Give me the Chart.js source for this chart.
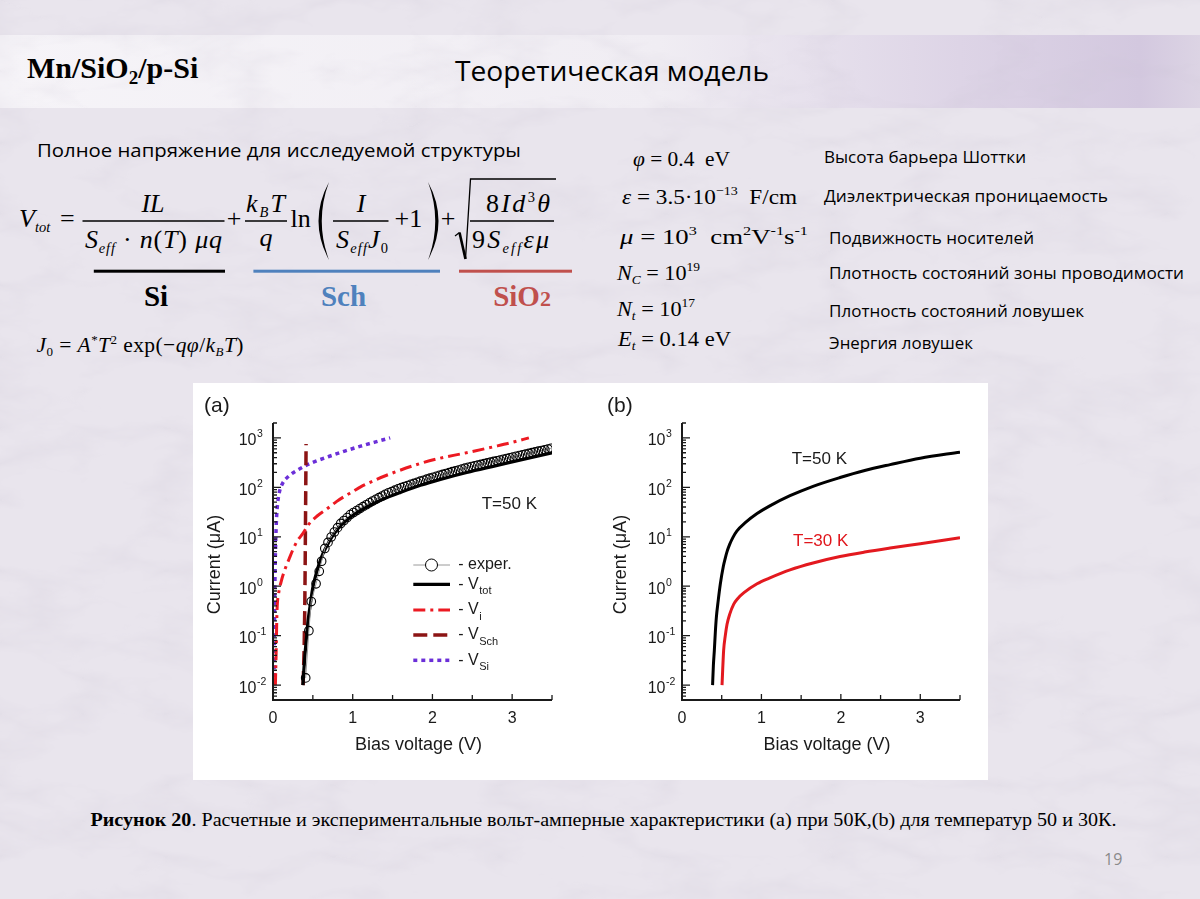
<!DOCTYPE html>
<html><head><meta charset="utf-8">
<script src="https://cdn.jsdelivr.net/npm/chart.js@4.4.1/dist/chart.umd.min.js"></script>
<style>
html,body{margin:0;padding:0;}
body{width:1200px;height:899px;position:relative;overflow:hidden;background:#e9e5ed;}
#panel{position:absolute;left:193px;top:383px;width:795px;height:397px;background:#fff;}
canvas{position:absolute;}
#ca{left:193px;top:383px;}
#cb{left:590px;top:383px;}
svg{position:absolute;left:0;top:0;}
</style></head><body>
<svg width="1200" height="899" xmlns="http://www.w3.org/2000/svg">
<defs>
<linearGradient id="hdr" x1="0" x2="1" y1="0" y2="0">
<stop offset="0" stop-color="#f6f4f8"/><stop offset="0.55" stop-color="#f0edf3"/>
<stop offset="0.8" stop-color="#ddd4e6"/><stop offset="0.95" stop-color="#d3c8df"/><stop offset="1" stop-color="#dcd4e4"/>
</linearGradient>
<filter id="marble" x="0" y="0" width="100%" height="100%">
<feTurbulence type="turbulence" baseFrequency="0.006 0.014" numOctaves="5" seed="7"/>
<feColorMatrix type="matrix" values="0 0 0 0 0.56  0 0 0 0 0.52  0 0 0 0 0.62  -0.5 0 0 0 0.16"/>
</filter>
</defs>
<rect x="0" y="35" width="1200" height="73" fill="url(#hdr)"/>
<rect x="0" y="0" width="1200" height="899" filter="url(#marble)"/>
<text x="27" y="78" font-family="Liberation Serif" font-weight="bold" font-size="30">Mn/SiO<tspan font-size="19" dy="6">2</tspan><tspan dy="-6">/p-Si</tspan></text>
<text x="455" y="81" font-family="Open Sans" font-size="28" textLength="314" lengthAdjust="spacingAndGlyphs">Теоретическая модель</text>
<text x="37" y="157" font-family="Open Sans" font-size="18.5" textLength="484" lengthAdjust="spacingAndGlyphs">Полное напряжение для исследуемой структуры</text>

<g font-family="Liberation Serif" font-size="26" fill="#000">
<text x="19" y="227" font-style="italic">V<tspan font-size="14.5" dy="5">tot</tspan></text>
<text x="60" y="227">=</text>
<text x="153" y="212" text-anchor="middle" font-style="italic">IL</text>
<line x1="82.5" y1="221" x2="224.5" y2="221" stroke="#000" stroke-width="1.3"/>
<text x="85" y="248" font-style="italic" textLength="137">S<tspan font-size="14.5" dy="5">eff</tspan><tspan dy="-5" font-style="normal"> · </tspan>n<tspan font-style="normal">(</tspan>T<tspan font-style="normal">)</tspan> μq</text>
<text x="234" y="227" text-anchor="middle">+</text>
<text x="246" y="212" font-style="italic" textLength="39">k<tspan font-size="14.5" dy="5">B</tspan><tspan dy="-5">T</tspan></text>
<line x1="245" y1="221" x2="287" y2="221" stroke="#000" stroke-width="1.3"/>
<text x="266" y="246" text-anchor="middle" font-style="italic">q</text>
<text x="290.5" y="227">ln</text>
<path d="M329,182 Q308,221 329,260 Q314.5,221 329,182Z" fill="#000"/>
<text x="361" y="212" text-anchor="middle" font-style="italic">I</text>
<line x1="333" y1="221" x2="388.5" y2="221" stroke="#000" stroke-width="1.3"/>
<text x="336" y="248" font-style="italic" textLength="52">S<tspan font-size="14.5" dy="5">eff</tspan><tspan dy="-5">J</tspan><tspan font-size="14.5" dy="5" font-style="normal">0</tspan></text>
<text x="394.5" y="227">+1</text>
<path d="M428,182 Q449,221 428,260 Q442.5,221 428,182Z" fill="#000"/>
<text x="448" y="227" text-anchor="middle">+</text>
<path d="M455,236 L459.5,232.5" stroke="#000" stroke-width="1.2" fill="none"/>
<path d="M459.5,232.5 L465.5,259" stroke="#000" stroke-width="2.6" fill="none"/>
<path d="M465.5,259 L470.5,179 L556,179" stroke="#000" stroke-width="1.3" fill="none"/>
<text x="486" y="212" textLength="64">8<tspan font-style="italic">Id</tspan><tspan font-size="14.5" dy="-10">3</tspan><tspan dy="10" font-style="italic">θ</tspan></text>
<line x1="470" y1="221" x2="554" y2="221" stroke="#000" stroke-width="1.3"/>
<text x="472" y="248" textLength="77">9<tspan font-style="italic">S</tspan><tspan font-size="14.5" dy="5" font-style="italic">eff</tspan><tspan dy="-5" font-style="italic">εμ</tspan></text>
</g>
<rect x="93.8" y="269.7" width="131.2" height="3" fill="#000"/>
<rect x="253.4" y="269.7" width="186.6" height="3" fill="#4f81bd"/>
<rect x="459" y="269.7" width="113" height="3" fill="#c0504d"/>
<g font-family="Liberation Serif" font-weight="bold" font-size="29">
<text x="156" y="306" text-anchor="middle" fill="#000">Si</text>
<text x="343.5" y="306" text-anchor="middle" fill="#4f81bd">Sch</text>
<text x="522" y="306" text-anchor="middle" fill="#c0504d">SiO<tspan font-size="22">2</tspan></text>
</g>
<text x="36.5" y="352" font-family="Liberation Serif" font-size="21.5" font-style="italic" textLength="207">J<tspan font-size="13" dy="4" font-style="normal">0</tspan><tspan dy="-4" font-style="normal"> = </tspan>A<tspan font-size="13" dy="-8" font-style="normal">*</tspan><tspan dy="8">T</tspan><tspan font-size="13" dy="-8" font-style="normal">2</tspan><tspan dy="8" font-style="normal"> exp(−</tspan>qφ<tspan font-style="normal">/</tspan>k<tspan font-size="13" dy="4">B</tspan><tspan dy="-4">T</tspan><tspan font-style="normal">)</tspan></text>

<g font-family="Liberation Serif" font-size="21.5">
<text x="633" y="166" textLength="97" lengthAdjust="spacingAndGlyphs"><tspan font-style="italic">φ</tspan> = 0.4 &#160;eV</text>
<text x="622" y="204" textLength="175" lengthAdjust="spacingAndGlyphs"><tspan font-style="italic">ε</tspan> = 3.5·10<tspan font-size="13" dy="-9">−13</tspan><tspan dy="9"> &#160;F/cm</tspan></text>
<text x="620" y="244" textLength="188" lengthAdjust="spacingAndGlyphs"><tspan font-style="italic">μ</tspan> = 10<tspan font-size="13" dy="-9">3</tspan><tspan dy="9"> &#160;cm</tspan><tspan font-size="13" dy="-9">2</tspan><tspan dy="9">V</tspan><tspan font-size="13" dy="-9">-1</tspan><tspan dy="9">s</tspan><tspan font-size="13" dy="-9">-1</tspan></text>
<text x="617" y="280" font-style="italic" textLength="83" lengthAdjust="spacingAndGlyphs">N<tspan font-size="13" dy="4">C</tspan><tspan dy="-4" font-style="normal"> = 10</tspan><tspan font-size="13" dy="-9" font-style="normal">19</tspan></text>
<text x="617" y="316" font-style="italic" textLength="78" lengthAdjust="spacingAndGlyphs">N<tspan font-size="13" dy="4">t</tspan><tspan dy="-4" font-style="normal"> = 10</tspan><tspan font-size="13" dy="-9" font-style="normal">17</tspan></text>
<text x="618" y="346" font-style="italic" textLength="113" lengthAdjust="spacingAndGlyphs">E<tspan font-size="13" dy="4">t</tspan><tspan dy="-4" font-style="normal"> = 0.14 eV</tspan></text>
</g>
<g font-family="Open Sans" font-size="16.5">
<text x="824" y="162.5" textLength="202" lengthAdjust="spacingAndGlyphs">Высота барьера Шоттки</text>
<text x="824" y="201.5" textLength="284" lengthAdjust="spacingAndGlyphs">Диэлектрическая проницаемость</text>
<text x="829" y="243.5" textLength="205" lengthAdjust="spacingAndGlyphs">Подвижность носителей</text>
<text x="829" y="278.5" textLength="355" lengthAdjust="spacingAndGlyphs">Плотность состояний зоны проводимости</text>
<text x="829" y="316.5" textLength="255" lengthAdjust="spacingAndGlyphs">Плотность состояний ловушек</text>
<text x="829" y="348.5" textLength="144" lengthAdjust="spacingAndGlyphs">Энергия ловушек</text>
</g>
<text x="90.5" y="826" font-family="Liberation Serif" font-size="18" textLength="1026" lengthAdjust="spacingAndGlyphs"><tspan font-weight="bold">Рисунок 20</tspan>. Расчетные и экспериментальные вольт-амперные характеристики (а) при 50К,(b) для температур 50 и 30К.</text>
<text x="1104" y="865" font-family="Open Sans" font-size="16" fill="#8a8a8a">19</text>
</svg>
<div id="panel"></div>
<canvas id="ca" width="397" height="397"></canvas>
<canvas id="cb" width="398" height="397"></canvas>
<script>
// ---- axis tick values ----
const voltageTicks = [0, 0.5, 1, 1.5, 2, 2.5, 3, 3.5];
const voltageLabels = [0, 1, 2, 3];
const currentExponents = [-2, -1, 0, 1, 2, 3];

// ---- panel (a), T = 50 K ----
const expV = [0.41,0.45,0.48,0.54,0.58,0.61,0.65,0.69,0.73,0.77,0.81,0.85,0.89,0.93,0.97,1.01,1.05,1.09,1.13,1.17,1.21,1.25,1.29,1.33,1.37,1.41,1.45,1.49,1.53,1.57,1.61,1.65,1.69,1.73,1.77,1.81,1.85,1.89,1.93,1.97,2.01,2.05,2.09,2.13,2.17,2.21,2.25,2.29,2.33,2.37,2.41,2.45,2.49,2.53,2.57,2.61,2.65,2.69,2.73,2.77,2.81,2.85,2.89,2.93,2.97,3.01,3.05,3.09,3.13,3.17,3.21,3.25,3.29,3.33,3.37,3.41,3.45,3.49];
const expI = [0.014,0.126,0.49,1.12,2.0,3.2,5.8,7.7,9.9,12.5,15.3,18.6,21.3,24.4,28.1,30.9,33.9,37.2,40.7,44.4,48.5,52.8,57.2,61.9,66.8,72.3,77.6,82.4,87.7,93.3,98.9,104,109,115,120,126,133,139,146,153,160,167,175,182,190,198,207,215,224,234,244,254,263,272,281,291,301,312,323,334,345,357,370,383,396,409,424,438,454,469,485,502,520,538,556,576,596,617];
const totV = [0.375,0.385,0.40,0.42,0.44,0.47,0.50,0.55,0.60,0.67,0.75,0.85,0.97,1.1,1.25,1.43,1.6,1.85,2.1,2.43,2.8,3.15,3.5];
const totI = [0.01,0.018,0.04,0.09,0.2,0.45,0.95,2.0,3.6,6.3,10.5,17,25,34,46,62,79,110,145,200,275,372,500];
const viV = [0.03,0.04,0.05,0.07,0.1,0.15,0.2,0.25,0.3,0.38,0.45,0.55,0.67,0.8,0.9,1.0,1.1,1.3,1.5,1.85,2.1,2.4,2.8,3.0,3.21];
const viI = [0.01,0.05,0.3,0.7,1.2,2.2,3.5,5.5,8,12,18,26,36,52,66,82,102,145,195,305,390,490,680,810,1000];
const schV = [0.378,0.39,0.398,0.403,0.407,0.411,0.415];
const schI = [0.01,0.05,0.3,2,15,100,750];
const siV = [0.012,0.016,0.02,0.025,0.032,0.045,0.06,0.08,0.12,0.2,0.3,0.4,0.5,0.7,0.9,1.1,1.3,1.47];
const siI = [0.01,0.05,0.3,1.5,6,25,50,80,120,170,220,270,320,420,540,680,840,1000];

// ---- panel (b), calculated V_tot at 50 K and 30 K ----
const b50V = [0.385,0.395,0.407,0.42,0.432,0.455,0.482,0.52,0.545,0.567,0.6,0.64,0.69,0.8,0.945,1.1,1.36,1.65,1.99,2.3,2.62,3.0,3.5];
const b50I = [0.01,0.025,0.05,0.12,0.23,0.5,1.1,2.5,3.7,5.0,7.0,9.6,13,19.5,29.5,41.7,67.6,105,158,219,288,389,513];
const b30V = [0.504,0.512,0.524,0.545,0.567,0.6,0.65,0.7,0.78,0.945,1.1,1.36,1.65,1.99,2.3,2.62,3.0,3.5];
const b30I = [0.01,0.02,0.05,0.1,0.17,0.27,0.43,0.56,0.74,1.12,1.46,2.14,2.95,3.98,4.9,5.9,7.24,9.55];

const pts = (xs, ys) => xs.map((v, i) => ({x: v, y: ys[i]}));
const SANS = '"Liberation Sans", Arial, sans-serif';
const INK = '#1a1a1a';

const deco = {
  id: 'deco',
  afterDraw(chart, args, o) {
    const {ctx, chartArea: a, scales: {x, y}} = chart;
    ctx.save();
    ctx.strokeStyle = INK; ctx.fillStyle = INK;
    ctx.lineWidth = 2; ctx.setLineDash([]);
    ctx.beginPath();
    ctx.moveTo(a.left, a.top); ctx.lineTo(a.left, a.bottom); ctx.lineTo(a.right, a.bottom);
    ctx.stroke();
    ctx.lineWidth = 1.3;
    ctx.beginPath();
    voltageTicks.forEach(v => {
      const px = x.getPixelForValue(v);
      ctx.moveTo(px, a.bottom); ctx.lineTo(px, a.bottom - (Number.isInteger(v) ? 6 : 5));
    });
    for (let k = -3; k <= 3; k++) {
      for (let m = 1; m <= 9; m++) {
        const v = m * Math.pow(10, k);
        if (v < y.min * 0.999 || v > y.max * 1.001) continue;
        const py = y.getPixelForValue(v);
        ctx.moveTo(a.left, py); ctx.lineTo(a.left + (m === 1 ? 8 : 4), py);
      }
    }
    ctx.stroke();
    ctx.font = '16px ' + SANS; ctx.textAlign = 'center'; ctx.textBaseline = 'middle';
    voltageLabels.forEach(v => ctx.fillText(String(v), x.getPixelForValue(v), a.bottom + 18.5));
    currentExponents.forEach(k => {
      const py = y.getPixelForValue(Math.pow(10, k));
      ctx.font = '16px ' + SANS; ctx.textAlign = 'right';
      ctx.fillText('10', a.left - 16.5, py + 3);
      ctx.font = '10.5px ' + SANS; ctx.textAlign = 'left';
      ctx.fillText(k < 0 ? '-' + (-k) : String(k), a.left - 16, py - 3.5);
    });
    ctx.font = '18px ' + SANS; ctx.textAlign = 'center';
    ctx.fillText('Bias voltage (V)', (a.left + a.right) / 2 + 6, a.bottom + 45);
    ctx.save();
    ctx.translate(o.yTitleX, (a.top + a.bottom) / 2 + 3);
    ctx.rotate(-Math.PI / 2);
    ctx.fillText('Current (μA)', 0, 0);
    ctx.restore();
    ctx.font = '21px ' + SANS; ctx.textAlign = 'left';
    ctx.fillText(o.letter, o.letterX, 23);
    ctx.font = '17px ' + SANS;
    o.notes.forEach(n => { ctx.fillStyle = n.c; ctx.fillText(n.t, n.x, n.y); });
    if (o.legend) {
      o.legend.forEach(r => {
        const ds = chart.data.datasets[r.i];
        ctx.save();
        if (r.marker) {
          ctx.strokeStyle = ds.borderColor; ctx.lineWidth = 1; ctx.setLineDash([]);
          ctx.beginPath(); ctx.moveTo(220.3, r.y); ctx.lineTo(257, r.y); ctx.stroke();
          ctx.fillStyle = '#fff'; ctx.strokeStyle = '#000';
          ctx.beginPath(); ctx.arc(238.5, r.y, 6, 0, Math.PI * 2); ctx.fill(); ctx.stroke();
        } else {
          ctx.strokeStyle = ds.borderColor; ctx.lineWidth = ds.borderWidth;
          ctx.setLineDash(ds.borderDash || []);
          ctx.beginPath(); ctx.moveTo(220.3, r.y); ctx.lineTo(257, r.y); ctx.stroke();
        }
        ctx.restore();
        ctx.fillStyle = INK; ctx.font = '16px ' + SANS; ctx.textAlign = 'left';
        ctx.fillText(r.t, 265.3, r.y);
        if (r.sub) {
          const w = ctx.measureText(r.t).width;
          ctx.font = '11px ' + SANS;
          ctx.fillText(r.sub, 265.3 + w + 0.5, r.y + 7);
        }
      });
    }
    ctx.restore();
  }
};

const scalesFor = (yw) => ({
  x: {type: 'linear', min: 0, max: 3.5, grid: {display: false, drawTicks: false}, border: {display: false},
      ticks: {display: false}, afterFit(s) { s.height = 80; }},
  y: {type: 'logarithmic', min: 0.005, max: 2000, grid: {display: false, drawTicks: false}, border: {display: false},
      ticks: {display: false}, afterFit(s) { s.width = yw; }}
});

new Chart(document.getElementById('ca'), {
  type: 'line',
  data: {datasets: [
    {label: 'exper.', data: pts(expV, expI), borderColor: '#9a9a9a', borderWidth: 1, tension: 0,
     pointRadius: 4.3, pointBorderWidth: 1.1, pointBorderColor: '#000', pointBackgroundColor: 'rgba(0,0,0,0)'},
    {label: 'V_tot', data: pts(totV, totI), borderColor: '#000', borderWidth: 3.2, pointRadius: 0, cubicInterpolationMode: 'monotone'},
    {label: 'V_i', data: pts(viV, viI), borderColor: '#ec1a22', borderWidth: 3, borderDash: [12, 5, 3, 5], pointRadius: 0, cubicInterpolationMode: 'monotone'},
    {label: 'V_Sch', data: pts(schV, schI), borderColor: '#8c1414', borderWidth: 3.5, borderDash: [14, 6], pointRadius: 0, tension: 0},
    {label: 'V_Si', data: pts(siV, siI), borderColor: '#6b2fd8', borderWidth: 3.5, borderDash: [4, 4], pointRadius: 0, cubicInterpolationMode: 'monotone'}
  ]},
  options: {
    responsive: false, animation: false, events: [],
    layout: {padding: {top: 40, right: 38, left: 0, bottom: 0}},
    plugins: {legend: {display: false}, tooltip: {enabled: false},
      deco: {letter: '(a)', letterX: 11, yTitleX: 22,
        notes: [{t: 'T=50 K', x: 288.7, y: 121, c: INK}],
        legend: [
          {i: 0, y: 182, t: '- exper.', marker: true},
          {i: 1, y: 201.3, t: '- V', sub: 'tot'},
          {i: 2, y: 227, t: '- V', sub: 'i'},
          {i: 3, y: 252, t: '- V', sub: 'Sch'},
          {i: 4, y: 277.3, t: '- V', sub: 'Si'}
        ]}},
    scales: scalesFor(80)
  },
  plugins: [deco]
});

new Chart(document.getElementById('cb'), {
  type: 'line',
  data: {datasets: [
    {label: 'T=50 K', data: pts(b50V, b50I), borderColor: '#000', borderWidth: 3, pointRadius: 0, cubicInterpolationMode: 'monotone'},
    {label: 'T=30 K', data: pts(b30V, b30I), borderColor: '#e3191f', borderWidth: 3, pointRadius: 0, cubicInterpolationMode: 'monotone'}
  ]},
  options: {
    responsive: false, animation: false, events: [],
    layout: {padding: {top: 40, right: 28, left: 0, bottom: 0}},
    plugins: {legend: {display: false}, tooltip: {enabled: false},
      deco: {letter: '(b)', letterX: 17, yTitleX: 31,
        notes: [{t: 'T=50 K', x: 201.7, y: 76, c: INK}, {t: 'T=30 K', x: 203, y: 158, c: '#e0161c'}],
        legend: null}},
    scales: scalesFor(92)
  },
  plugins: [deco]
});
</script>
</body></html>
